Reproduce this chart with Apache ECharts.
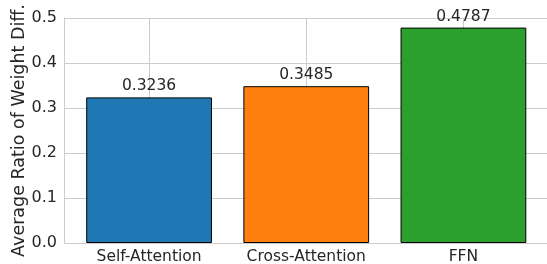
<!DOCTYPE html>
<html>
<head>
<meta charset="utf-8">
<script src="https://cdn.jsdelivr.net/npm/echarts@6/dist/echarts.min.js"></script>
<style>
  html, body { margin: 0; padding: 0; background: #fff; }
  #chart { width: 547px; height: 264px; }
</style>
</head>
<body>
<div id="chart"></div>
<script>
  var categories = ['Self-Attention', 'Cross-Attention', 'FFN']
  var values = [0.3236, 0.3485, 0.4787]
  var barColors = ['#1f77b4', '#ff7f0e', '#2ca02c']
  var yTicks = [0, 0.1, 0.2, 0.3, 0.4, 0.5]

  var textColor = '#262626'
  var gridColor = '#cccccc'
  var font = 'DejaVu Sans'

  var chart = echarts.init(document.getElementById('chart'))
  chart.setOption({
    animation: false,
    grid: [
      // frame with horizontal grid lines
      { left: 64, right: 0, top: 18, bottom: 21, outerBoundsMode: 'none' },
      // bars, narrower so category centers match
      { left: 70.5, right: 5, top: 18, bottom: 21, outerBoundsMode: 'none' }
    ],
    xAxis: [{
      gridIndex: 0,
      type: 'value',
      min: 0,
      max: 1,
      axisLine: { show: true, lineStyle: { color: gridColor, width: 1 } },
      axisTick: { show: false },
      axisLabel: { show: false },
      splitLine: { show: false }
    }, {
      gridIndex: 1,
      type: 'category',
      data: categories,
      axisLine: { show: false },
      axisTick: { show: false },
      axisLabel: {
        color: textColor,
        fontFamily: font,
        fontSize: 15.5,
        margin: 6
      },
      splitLine: {
        show: true,
        alignWithLabel: true,
        lineStyle: { color: gridColor, width: 1 }
      }
    }],
    yAxis: [{
      gridIndex: 0,
      type: 'value',
      min: yTicks[0],
      max: yTicks[yTicks.length - 1],
      interval: 0.1,
      name: 'Average Ratio of Weight Diff.',
      nameLocation: 'middle',
      nameGap: 36,
      nameMoveOverlap: false,
      nameTextStyle: { color: textColor, fontFamily: font, fontSize: 17.5 },
      axisLine: { show: true, lineStyle: { color: gridColor, width: 1 } },
      axisTick: { show: false },
      axisLabel: {
        color: textColor,
        fontFamily: font,
        fontSize: 16,
        margin: 7,
        formatter: function (v) { return v.toFixed(1) }
      },
      splitLine: { show: true, lineStyle: { color: gridColor, width: 1 } }
    }, {
      gridIndex: 1,
      type: 'value',
      min: yTicks[0],
      max: yTicks[yTicks.length - 1],
      show: false,
      splitLine: { show: false }
    }],
    series: [{
      type: 'bar',
      xAxisIndex: 1,
      yAxisIndex: 1,
      barWidth: '80%',
      z: 3,
      data: values.map(function (v, i) {
        return {
          value: v,
          itemStyle: { color: barColors[i], borderColor: '#000', borderWidth: 1 }
        }
      }),
      label: {
        show: true,
        position: 'top',
        distance: 3,
        color: textColor,
        fontFamily: font,
        fontSize: 15.5,
        formatter: function (p) { return p.value.toFixed(4) }
      }
    }]
  })
</script>
</body>
</html>
